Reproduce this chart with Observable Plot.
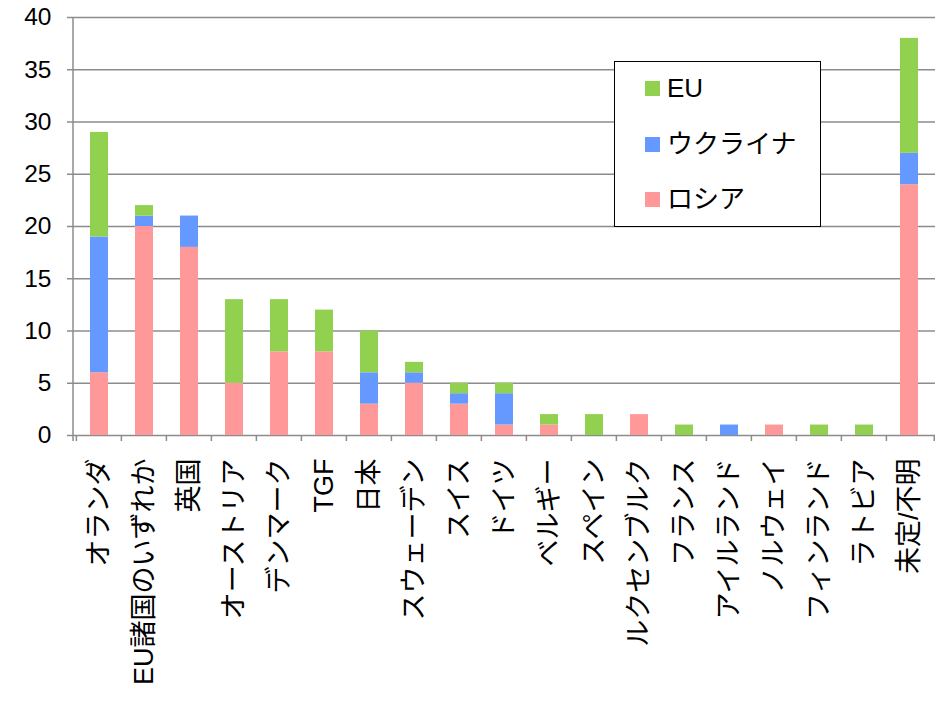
<!DOCTYPE html>
<html>
<head>
<meta charset="utf-8">
<script src="https://cdn.jsdelivr.net/npm/d3@7"></script>
<script src="https://cdn.jsdelivr.net/npm/@observablehq/plot@0.6"></script>
<style>
  html, body { margin: 0; padding: 0; background: #fff; }
  #wrap { position: relative; width: 936px; height: 704px; font-family: "Liberation Sans", Arial, "Noto Sans CJK JP", sans-serif; }
  #wrap svg { display: block; }
  [aria-label="y-axis tick"] { stroke: #8c8c8c; stroke-width: 1.5; }
  [aria-label="y-axis"] .tick line { stroke: #8c8c8c; stroke-width: 1.5; }
  [aria-label="y-axis tick label"] { font-size: 24.5px; }
  [aria-label="x-axis tick label"] text, [aria-label="x-axis"] .tick text { font-size: 27px; }
  [aria-label="x-axis tick label"] { font-size: 27px; }
  #legend { position: absolute; left: 614px; top: 61px; width: 205px; height: 164px; border: 1.5px solid #000; background: #fff; box-sizing: content-box; }
  .item { position: absolute; left: 30px; height: 26px; display: flex; align-items: center; font-size: 26px; color: #000; line-height: 26px; }
  .sw { width: 15px; height: 15px; margin-right: 7px; }
</style>
</head>
<body>
<div id="wrap"></div>
<script>
const categories = ["オランダ","EU諸国のいずれか","英国","オーストリア","デンマーク","TGF","日本","スウェーデン","スイス","ドイツ","ベルギー","スペイン","ルクセンブルク","フランス","アイルランド","ノルウェイ","フィンランド","ラトビア","未定/不明"];
const seriesNames = ["EU","ウクライナ","ロシア"];
const seriesColors = ["#92D050","#6699FF","#FF9999"];
const russia  = [6,20,18,5,8,8,3,5,3,1,1,0,2,0,0,1,0,0,24];
const ukraine = [13,1,3,0,0,0,3,1,1,3,0,0,0,0,1,0,0,0,3];
const eu      = [10,1,0,8,5,4,4,1,1,1,1,2,0,1,0,0,1,1,11];
const yTicks = [0,5,10,15,20,25,30,35,40];

const seriesValues = {"ロシア": russia, "ウクライナ": ukraine, "EU": eu};
const rows = [];
for (const s of ["ロシア","ウクライナ","EU"]) {
  categories.forEach((c, i) => rows.push({country: c, series: s, value: seriesValues[s][i]}));
}

const PAD_IN = 0.6;
const axisMarks = (index, scales, values, dims) => {
  const g = d3.create("svg:g").attr("stroke", "#8c8c8c").attr("stroke-width", 1.5).attr("fill", "none");
  const x0 = dims.marginLeft, x1 = dims.width - dims.marginRight;
  const yb = dims.height - dims.marginBottom;
  g.append("line").attr("x1", x0).attr("x2", x0).attr("y1", dims.marginTop).attr("y2", yb + 6);
  const step = (x1 - x0) / categories.length;
  const bounds = categories.map(c => scales.x(c) - step * PAD_IN / 2);
  bounds.push(x1 - 0.75);
  for (const bx of bounds) {
    g.append("line").attr("x1", bx).attr("x2", bx).attr("y1", yb).attr("y2", yb + 6);
  }
  return g.node();
};

const chart = Plot.plot({
  width: 936,
  height: 704,
  marginLeft: 73,
  marginRight: 1,
  marginTop: 17,
  marginBottom: 269,
  style: {fontFamily: '"Liberation Sans", Arial, "Noto Sans CJK JP", sans-serif', fontSize: "24px", color: "#000", background: "#fff"},
  x: {domain: categories, paddingInner: PAD_IN, paddingOuter: PAD_IN / 2, label: null, tickSize: 0, tickPadding: 23, tickRotate: -90},
  y: {domain: [0, 40], ticks: yTicks, tickSize: 6, tickPadding: 16, label: null},
  color: {domain: seriesNames, range: seriesColors},
  marks: [
    Plot.ruleY(yTicks, {stroke: "#8c8c8c", strokeWidth: 1.5}),
    Plot.barY(rows.filter(d => d.value > 0), {x: "country", y: "value", fill: "series", order: ["ロシア","ウクライナ","EU"]}),
    axisMarks
  ]
});
const wrap = document.getElementById("wrap");
wrap.appendChild(chart);

const legend = document.createElement("div");
legend.id = "legend";
const tops = [13, 69, 124];
seriesNames.forEach((s, i) => {
  const it = document.createElement("div");
  it.className = "item";
  it.style.top = tops[i] + "px";
  const sw = document.createElement("div");
  sw.className = "sw";
  sw.style.background = seriesColors[i];
  const t = document.createElement("span");
  t.textContent = s;
  it.appendChild(sw); it.appendChild(t);
  legend.appendChild(it);
});
wrap.appendChild(legend);
</script>
</body>
</html>
